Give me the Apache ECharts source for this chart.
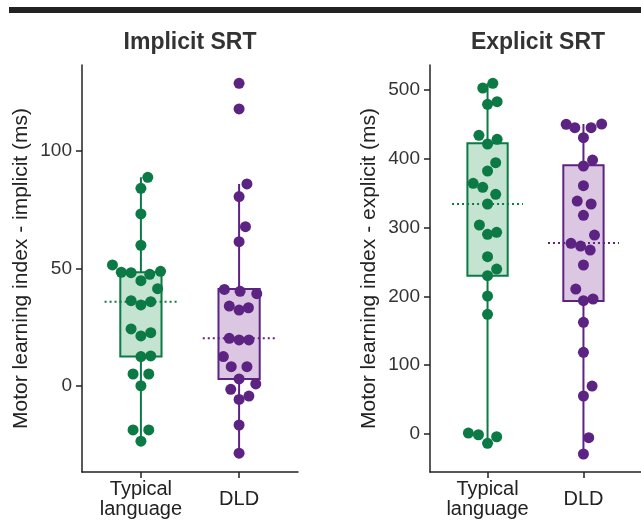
<!DOCTYPE html>
<html>
<head>
<meta charset="utf-8">
<script src="https://cdn.jsdelivr.net/npm/echarts@6/dist/echarts.min.js"></script>
<style>
  html, body { margin: 0; padding: 0; background: #fff; }
  #chart { width: 641px; height: 532px; }
</style>
</head>
<body>
<div id="chart"></div>
<script>
var myChart = echarts.init(document.getElementById('chart'));

// group positions on the x axis
var groups = ['Typical\nlanguage', 'DLD'];

// Implicit SRT (ms)
var implicitTypical = [88.8, 84.1, 73.2, 59.9, 51.5, 48.4, 48.2, 47.5, 48.8, 44.8, 41.4, 36.3, 34.5, 35.9, 24.3, 21.3, 22.7, 12.5, 12.8, 5.1, 5.1, 0.1, -18.7, -18.7, -23.5];
var implicitTypicalJitter = [0.07, 0, 0, 0, -0.29, -0.2, -0.1, 0.09, 0.2, 0, 0.17, -0.1, 0, 0.1, -0.1, 0, 0.1, 0, 0.1, -0.08, 0.08, 0, -0.08, 0.08, 0];
var implicitDLD = [128.8, 117.9, 86.0, 80.6, 67.8, 61.4, 41.1, 40.3, 39.3, 34.0, 32.3, 33.3, 20.3, 19.6, 19.6, 12.5, 8.2, 8.2, 3.0, 0.9, -1.4, -5.7, -4.3, -16.6, -28.6];
var implicitDLDJitter = [0, 0, 0.08, 0, 0.065, 0, -0.15, 0.01, 0.18, -0.1, 0, 0.095, -0.1, 0, 0.1, -0.16, -0.08, 0.08, 0, 0.17, -0.085, 0, 0.1, 0, 0];

// Explicit SRT (ms)
var explicitTypical = [503.2, 510, 479.5, 483.3, 434.3, 428.5, 421.7, 394.5, 382.4, 364.5, 358.7, 348.5, 334.4, 303.8, 290.2, 293.2, 257.7, 239.7, 230, 200.4, 173.8, 1.0, -1.5, -4.4, -14];
var explicitTypicalJitter = [-0.05, 0.055, 0, 0.1, -0.09, 0.1, 0, 0.085, 0, -0.15, -0.05, 0.085, 0, -0.085, 0, 0.095, 0, 0.095, 0, 0, 0, -0.2, -0.095, 0.095, 0];
var explicitDLD = [450.3, 445.4, 445.4, 450.8, 430.9, 398.4, 389.7, 361, 338.7, 334.4, 317.9, 289.2, 277.1, 273.2, 267.4, 245.6, 210.6, 193.6, 196.1, 162.2, 118.5, 69.4, 54.9, -5.8, -29.5];
var explicitDLDJitter = [-0.18, -0.09, 0.08, 0.19, 0, 0.095, 0, 0, -0.065, 0.08, 0, 0.115, -0.13, -0.03, 0.07, 0, -0.08, 0, 0.1, 0, 0, 0.09, 0, 0.055, 0];

// box stats: [q1, q3, whisker low, whisker high, dotted line]
var implicitBoxTypical = [12.5, 48.4, -23.5, 88.8, 35.9];
var implicitBoxDLD = [3.0, 41.3, -28.6, 86.0, 20.3];
var explicitBoxTypical = [230, 422.7, -14, 510, 334.4];
var explicitBoxDLD = [193.2, 390.7, -29.5, 450.8, 277.6];

// tick labels
var implicitTicks = [0, 50, 100];
var explicitTicks = [0, 100, 200, 300, 400, 500];

var green = '#0b7a45', greenFill = '#c4e3d1';
var purple = '#5c2382', purpleFill = '#dcc7e3';
var font = 'Liberation Sans, Arial, sans-serif';

function points(vals, jit, pos) {
    var res = [];
    for (var i = 0; i < vals.length; i++) res.push([pos + jit[i], vals[i]]);
    return res;
}

function boxItem(renderColor, fill) {
    return function (params, api) {
        var x = api.value(0);
        var top = api.coord([x, api.value(4)]);
        var bot = api.coord([x, api.value(3)]);
        var q3l = api.coord([x - 0.21, api.value(2)]);
        var q1r = api.coord([x + 0.21, api.value(1)]);
        var ml = api.coord([x - 0.37, api.value(5)]);
        var mr = api.coord([x + 0.37, api.value(5)]);
        return {
            type: 'group',
            children: [
                {type: 'line', shape: {x1: top[0], y1: top[1], x2: bot[0], y2: bot[1]}, style: {stroke: renderColor, lineWidth: 2}},
                {type: 'rect', shape: {x: q3l[0], y: q3l[1], width: q1r[0] - q3l[0], height: q1r[1] - q3l[1]}, style: {fill: fill, stroke: renderColor, lineWidth: 2}},
                {type: 'line', shape: {x1: ml[0], y1: ml[1], x2: mr[0], y2: mr[1]}, style: {stroke: renderColor, lineWidth: 2, lineDash: [2, 3]}}
            ]
        };
    };
}

function xAxis(gi) {
    return {
        type: 'value', gridIndex: gi, min: 0.4, max: 2.6,
        splitLine: {show: false},
        axisLine: {show: true, onZero: false, lineStyle: {color: '#222', width: 1.5}},
        axisTick: {show: true, length: 6, lineStyle: {color: '#222', width: 1.5}, customValues: [1, 2]},
        axisLabel: {
            customValues: [1, 2], color: '#222', fontSize: 20, fontFamily: font,
            lineHeight: 20, margin: 27, verticalAlign: 'middle',
            formatter: function (v) { return groups[Math.round(v) - 1]; }
        }
    };
}

function yAxis(gi, min, max, ticks, name) {
    return {
        type: 'value', gridIndex: gi, min: min, max: max,
        name: name, nameLocation: 'middle', nameGap: 50,
        nameTextStyle: {fontSize: 21, color: '#222', fontFamily: font},
        splitLine: {show: false},
        axisLine: {show: true, onZero: false, lineStyle: {color: '#222', width: 1.5}},
        axisTick: {show: true, length: 6, lineStyle: {color: '#222', width: 1.5}, customValues: ticks},
        axisLabel: {customValues: ticks, color: '#333', fontSize: 19, fontFamily: font, margin: 10}
    };
}

function scatter(gi, data, color) {
    return {
        type: 'scatter', xAxisIndex: gi, yAxisIndex: gi, data: data,
        symbolSize: 11, itemStyle: {color: color, opacity: 1}, z: 5, silent: true
    };
}

function boxes(gi, box, pos, color, fill) {
    return {
        type: 'custom', xAxisIndex: gi, yAxisIndex: gi, z: 2, silent: true,
        renderItem: boxItem(color, fill),
        data: [[pos, box[0], box[1], box[2], box[3], box[4]]]
    };
}

option = {
    animation: false,
    backgroundColor: '#fff',
    grid: [
        {left: 82, top: 65, width: 216, height: 407},
        {left: 430, top: 65, width: 216, height: 407}
    ],
    xAxis: [xAxis(0), xAxis(1)],
    yAxis: [
        yAxis(0, -36.6, 136.6, implicitTicks, 'Motor learning index - implicit (ms)'),
        yAxis(1, -55.7, 536.7, explicitTicks, 'Motor learning index - explicit (ms)')
    ],
    graphic: [
        {type: 'rect', shape: {x: 9, y: 7, width: 640, height: 6}, style: {fill: '#222'}},
        {type: 'text', x: 190, y: 43, style: {text: 'Implicit SRT', font: 'bold 23px ' + font, fill: '#333', align: 'center', verticalAlign: 'middle'}},
        {type: 'text', x: 538, y: 43, style: {text: 'Explicit SRT', font: 'bold 23px ' + font, fill: '#333', align: 'center', verticalAlign: 'middle'}}
    ],
    series: [
        boxes(0, implicitBoxTypical, 1, green, greenFill),
        boxes(0, implicitBoxDLD, 2, purple, purpleFill),
        scatter(0, points(implicitTypical, implicitTypicalJitter, 1), green),
        scatter(0, points(implicitDLD, implicitDLDJitter, 2), purple),
        boxes(1, explicitBoxTypical, 1, green, greenFill),
        boxes(1, explicitBoxDLD, 2, purple, purpleFill),
        scatter(1, points(explicitTypical, explicitTypicalJitter, 1), green),
        scatter(1, points(explicitDLD, explicitDLDJitter, 2), purple)
    ]
};

myChart.setOption(option);
</script>
</body>
</html>
